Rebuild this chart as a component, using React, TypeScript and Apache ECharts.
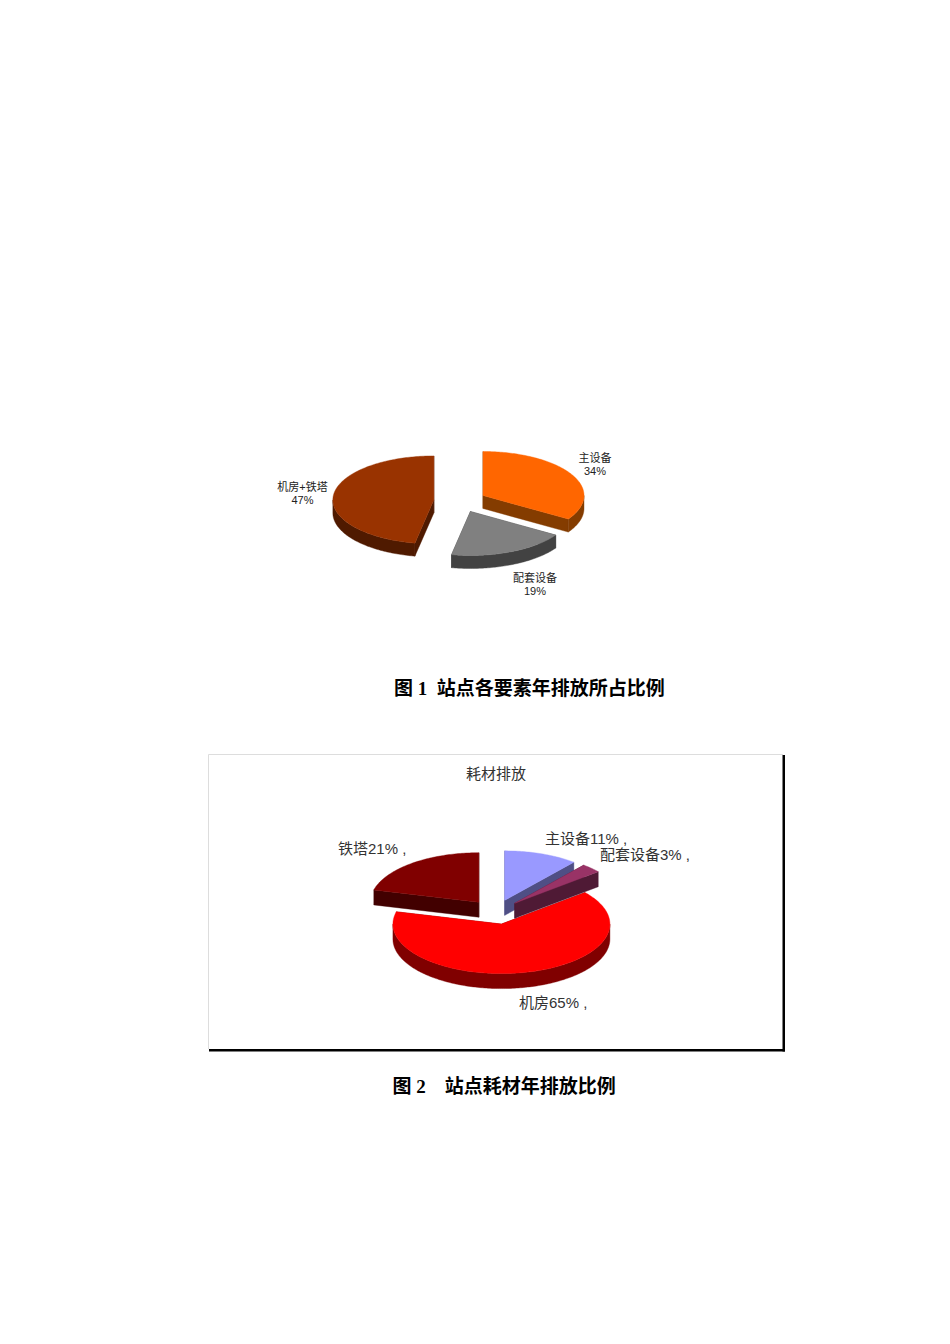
import React, { useEffect, useRef } from "react";
import * as echarts from "echarts";

const sans = '"Liberation Sans","Noto Sans CJK SC",sans-serif';
const serifBold = 'bold 19px "Liberation Serif","Noto Sans CJK SC",serif';

// Chart 1
const elementNames = ["主设备", "配套设备", "机房+铁塔"];
const elementValues = [34, 19, 47];
const elementTop = ["#FF6600", "#808080", "#993300"];
const elementSide = ["#843C00", "#424242", "#4F1A00"];
const elementLabelAt = [[595, 464.5], [535, 584.5], [302.5, 493.5]];
const elementDraw = [0, 1, 2];

// Chart 2
const materialNames = ["主设备", "配套设备", "机房", "铁塔"];
const materialValues = [11, 3, 65, 21];
const materialTop = ["#9999FF", "#993366", "#FF0000", "#800000"];
const materialSide = ["#4F4F85", "#4F1A35", "#800000", "#420000"];
const materialLabelAt = [[545, 838], [600, 854], [519, 1002], [338, 848]];
const materialDraw = [2, 3, 0, 1];

const captionOne = "图 1\u00A0\u00A0站点各要素年排放所占比例";
const captionTwo = "图 2\u00A0\u00A0\u00A0\u00A0站点耗材年排放比例";
const frameTitle = "耗材排放";

type Pie = {
  name: string; names: string[]; values: number[]; top: string[]; side: string[];
  labelAt: number[][]; draw: number[]; cx: number; cy: number; rx: number; ry: number;
  depth: number; explode: number; text: (n: string, v: number) => string;
  font: number; lineHeight: number; align: string; labelFill: string;
};

function pieSeries(p: Pie) {
  const total = p.values.reduce((a, b) => a + b, 0);
  return {
    type: "custom",
    name: p.name,
    coordinateSystem: "none",
    silent: true,
    data: p.values.map((v, i) => [v, i]),
    renderItem: (_: any, api: any) => {
      const i = api.value(1);
      const before = p.values.slice(0, i).reduce((a, b) => a + b, 0);
      const s = (before / total) * 360;
      const e = ((before + api.value(0)) / total) * 360;
      const mid = ((s + e) / 2) * Math.PI / 180;
      const ox = p.cx + Math.sin(mid) * p.explode * p.rx;
      const oy = p.cy - Math.cos(mid) * p.explode * p.ry;
      const pt = (deg: number, dz = 0) => {
        const a = deg * Math.PI / 180;
        return [ox + Math.sin(a) * p.rx, oy - Math.cos(a) * p.ry + dz];
      };
      const arc = (a: number, b: number, dz = 0) => {
        const out: number[][] = [];
        const n = Math.max(1, Math.ceil(Math.abs(b - a)));
        for (let k = 0; k <= n; k++) out.push(pt(a + ((b - a) * k) / n, dz));
        return out;
      };
      const order = p.draw.indexOf(i) * 10;
      const poly = (points: number[][], fill: string, z2: number) => ({
        type: "polygon", z2, shape: { points },
        style: { fill, stroke: fill, lineWidth: 0.4 },
      });
      const d = p.depth;
      const children: any[] = [];
      for (const deg of [s, e]) {
        children.push(poly([[ox, oy], pt(deg), pt(deg, d), [ox, oy + d]], p.side[i], order));
      }
      const ws = Math.max(s, 90), we = Math.min(e, 270);
      if (we > ws) {
        children.push(poly([...arc(ws, we), ...arc(we, ws, d)], p.side[i], order + 1));
      }
      children.push(poly([[ox, oy], ...arc(s, e)], p.top[i], order + 2));
      children.push({
        type: "text", z2: 100,
        style: {
          text: p.text(p.names[i], api.value(0)),
          x: p.labelAt[i][0], y: p.labelAt[i][1],
          fill: p.labelFill,
          font: `${p.font}px ${sans}`,
          lineHeight: p.lineHeight,
          align: p.align, verticalAlign: "middle",
        },
      });
      return { type: "group", children };
    },
  };
}

export default function App() {
  const ref = useRef<HTMLDivElement>(null);
  useEffect(() => {
    document.body.style.margin = "0";
    const chart = echarts.init(ref.current!, undefined, { renderer: "svg" });
    chart.setOption({
      animation: false,
      backgroundColor: "#ffffff",
      series: [
        pieSeries({
          name: "站点各要素年排放", names: elementNames, values: elementValues,
          top: elementTop, side: elementSide, labelAt: elementLabelAt, draw: elementDraw,
          cx: 460, cy: 501, rx: 101, ry: 44, depth: 13, explode: 0.26,
          text: (n, v) => `${n}\n${v}%`, font: 11, lineHeight: 13, align: "center", labelFill: "#222222",
        }),
        pieSeries({
          name: frameTitle, names: materialNames, values: materialValues,
          top: materialTop, side: materialSide, labelAt: materialLabelAt, draw: materialDraw,
          cx: 495.5, cy: 912, rx: 108.5, ry: 49.5, depth: 15, explode: 0.25,
          text: (n, v) => `${n}${v}% ,`, font: 15, lineHeight: 18, align: "left", labelFill: "#333333",
        }),
      ],
      graphic: [
        { type: "line", shape: { x1: 208.5, y1: 754.5, x2: 783, y2: 754.5 }, style: { stroke: "#dddddd", lineWidth: 1 } },
        { type: "line", shape: { x1: 208.5, y1: 754.5, x2: 208.5, y2: 1049 }, style: { stroke: "#dddddd", lineWidth: 1 } },
        { type: "rect", shape: { x: 782.5, y: 755, width: 2.5, height: 296.5 }, style: { fill: "#000000" } },
        { type: "rect", shape: { x: 209, y: 1049, width: 576, height: 2.5 }, style: { fill: "#000000" } },
        { type: "text", style: { text: frameTitle, x: 496, y: 773.5, align: "center", verticalAlign: "middle", fill: "#333333", font: `15px ${sans}` } },
        { type: "text", style: { text: captionOne, x: 394, y: 688, align: "left", verticalAlign: "middle", fill: "#000000", font: serifBold } },
        { type: "text", style: { text: captionTwo, x: 392.5, y: 1086, align: "left", verticalAlign: "middle", fill: "#000000", font: serifBold } },
      ],
    });
    return () => chart.dispose();
  }, []);
  return <div ref={ref} style={{ position: "absolute", left: 0, top: 0, width: 950, height: 1344 }} />;
}
